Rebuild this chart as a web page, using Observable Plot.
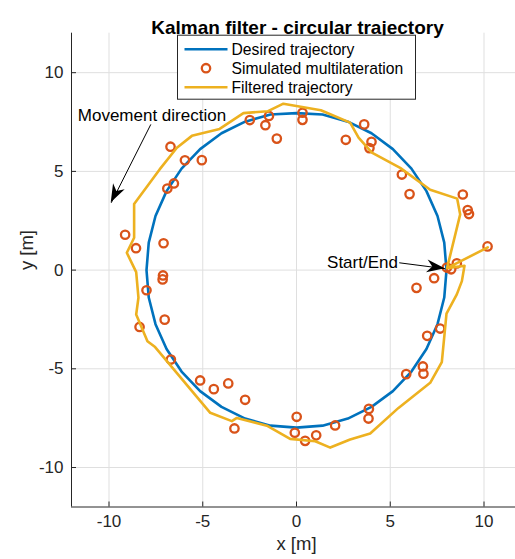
<!DOCTYPE html>
<html><head><meta charset="utf-8">
<script src="https://cdn.jsdelivr.net/npm/d3@7"></script>
<script src="https://cdn.jsdelivr.net/npm/@observablehq/plot@0.6"></script>
<style>
html,body{margin:0;padding:0;background:#fff;}
#chart{width:515px;height:559px;overflow:hidden;}
</style></head><body><div id="chart"></div>
<script>
// ---- data ----
const titleText = "Kalman filter - circular trajectory";
const xLabel = "x [m]";
const yLabel = "y [m]";
const xTicks = [-10, -5, 0, 5, 10];
const yTicks = [-10, -5, 0, 5, 10];
const seriesNames = ["Desired trajectory", "Simulated multilateration", "Filtered trajectory"];

const desiredX = [8, 7.88, 7.52, 6.93, 6.13, 5.14, 4.00, 2.74, 1.39, 0, -1.39, -2.74, -4.00, -5.14, -6.13, -6.93, -7.52, -7.88, -8, -7.88, -7.52, -6.93, -6.13, -5.14, -4.00, -2.74, -1.39, 0, 1.39, 2.74, 4.00, 5.14, 6.13, 6.93, 7.52, 7.88, 8];
const desiredY = [0, 1.39, 2.74, 4.00, 5.14, 6.13, 6.93, 7.52, 7.88, 7.95, 7.88, 7.52, 6.93, 6.13, 5.14, 4.00, 2.74, 1.39, 0, -1.39, -2.74, -4.00, -5.14, -6.13, -6.93, -7.52, -7.88, -7.98, -7.88, -7.52, -6.93, -6.13, -5.14, -4.00, -2.74, -1.39, 0];

const measX = [8.02, 8.25, 8.55, 10.19, 9.2, 9.13, 8.87, 6.03, 5.62, 3.89, 4.0, 3.61, 2.63, 0.32, 0.32, -1.05, -1.47, -1.66, -2.49, -5.05, -5.95, -6.72, -6.54, -6.89, -9.14, -8.56, -7.09, -7.12, -7.14, -8.0, -7.03, -8.37, -6.70, -5.14, -4.41, -3.64, -2.74, -3.31, 0.01, -0.09, 0.46, 1.05, 2.06, 3.86, 3.84, 5.85, 6.74, 6.77, 6.97, 7.66, 6.4, 7.34];
const measY = [0.13, 0.04, 0.34, 1.2, 2.84, 3.04, 3.83, 3.85, 4.84, 6.18, 6.5, 7.38, 6.6, 7.97, 7.61, 6.66, 7.81, 7.34, 7.6, 5.57, 5.56, 6.25, 4.39, 4.13, 1.79, 1.11, 1.36, -0.27, -0.47, -1.02, -2.51, -2.88, -4.53, -5.59, -6.03, -5.74, -6.57, -8.02, -7.43, -8.24, -8.65, -8.37, -7.87, -7.03, -7.52, -5.27, -4.88, -5.25, -3.33, -2.96, -0.9, -0.41];

const filtX = [10.2, 8.03, 8.73, 8.57, 7.13, 5.53, 4.02, 3.31, 2.86, 1.3, -0.7, -1.52, -2.83, -4.1, -5.58, -6.38, -7.3, -8.66, -8.66, -9.05, -8.55, -8.43, -8.55, -7.95, -7.54, -4.60, -3.45, -3.18, -1.58, -0.34, 1.0, 1.80, 2.86, 3.93, 5.44, 7.13, 7.75, 8.0, 8.55, 8.82, 8.96, 8.03];
const filtY = [1.15, 0.10, 2.82, 3.62, 4.07, 5.18, 5.95, 6.71, 7.47, 8.1, 8.43, 8.05, 7.95, 7.15, 6.8, 6.2, 5.1, 3.35, 1.64, 0.88, -0.1, -1.40, -2.25, -3.6, -3.9, -7.23, -7.65, -7.49, -7.88, -8.55, -8.67, -8.99, -8.58, -8.28, -6.98, -5.71, -4.66, -2.2, -1.23, -0.56, 0.22, 0.10];

const annText = ["Movement direction", "Start/End"];
const annTextX = [-7.71, 5.41];
const annTextY = [7.83, 0.39];
const annX1 = [-7.77, 5.48];
const annY1 = [7.38, 0.37];
const annX2 = [-9.88, 7.93];
const annY2 = [3.41, 0.07];

// ---- tables ----
const desired = desiredX.map((x, i) => ({x, y: desiredY[i]}));
const meas = measX.map((x, i) => ({x, y: measY[i]}));
const filt = filtX.map((x, i) => ({x, y: filtY[i]}));
const ann = annText.map((t, i) => ({t, tx: annTextX[i], ty: annTextY[i], x1: annX1[i], y1: annY1[i], x2: annX2[i], y2: annY2[i]}));

const BLUE = "#0072BD", ORANGE = "#D95319", YELLOW = "#EDB120";
const AX = "#262626", GRID = "#dfdfdf";
const FONT = "'Liberation Sans', Arial, Helvetica, sans-serif";

const W = 515, H = 559, ML = 71, MR = 0, MT = 32.7, MB = 52.5;
const frameW = W - ML - MR, frameH = H - MT - MB;

function getScales(scales) {
  const sx = typeof scales.x === "function" ? scales.x : d3.scaleLinear([-12, 12], [71, 521]);
  const sy = typeof scales.y === "function" ? scales.y : d3.scaleLinear([-12, 12], [H - MB, MT]);
  return [sx, sy];
}

const arrowHeads = (index, scales) => {
  const [sx, sy] = getScales(scales);
  const g = d3.create("svg:g");
  for (const a of ann) {
    const x1 = sx(a.x1), y1 = sy(a.y1), x2 = sx(a.x2), y2 = sy(a.y2);
    const ang = Math.atan2(y2 - y1, x2 - x1);
    const L = 18, Wd = 6.5, N = 12.5;
    const ux = Math.cos(ang), uy = Math.sin(ang), px = -uy, py = ux;
    const pts = [[x2, y2], [x2 - L*ux + Wd*px, y2 - L*uy + Wd*py], [x2 - N*ux, y2 - N*uy], [x2 - L*ux - Wd*px, y2 - L*uy - Wd*py]];
    g.append("path").attr("d", "M" + pts.map(p => p.join(",")).join("L") + "Z").attr("fill", "#000").attr("stroke", "none");
  }
  return g.node();
};

const legendMark = (index, scales) => {
  const [sx] = getScales(scales);
  const g = d3.create("svg:g");
  const cx = (sx(-12) + sx(12)) / 2;
  const w = 238, h = 64, top = MT + 2.5, left = cx - w / 2 + 0.5;
  g.append("rect").attr("x", left).attr("y", top).attr("width", w).attr("height", h)
    .attr("fill", "#fff").attr("stroke", AX).attr("stroke-width", 1);
  const rows = [top + 14, top + 33, top + 52];
  const colors = [BLUE, ORANGE, YELLOW];
  seriesNames.forEach((name, i) => {
    if (i === 1) {
      g.append("circle").attr("cx", left + 28.5).attr("cy", rows[i]).attr("r", 4.2)
        .attr("fill", "none").attr("stroke", colors[i]).attr("stroke-width", 2.3);
    } else {
      g.append("path").attr("d", `M${left + 7},${rows[i]}H${left + 50}`)
        .attr("fill", "none").attr("stroke", colors[i]).attr("stroke-width", 2.6);
    }
    g.append("text").attr("x", left + 54).attr("y", rows[i]).attr("dy", "0.35em")
      .attr("text-anchor", "start")
      .attr("font-family", FONT).attr("font-size", 15.7).attr("fill", "#000").text(name);
  });
  return g.node();
};

const chart = Plot.plot({
  width: W, height: H,
  marginLeft: ML, marginRight: MR, marginTop: MT, marginBottom: MB,
  style: {fontFamily: FONT, background: "#fff", overflow: "hidden"},
  x: {domain: [-12, 12], range: [71, 521], axis: null},
  y: {domain: [-12, 12], axis: null},
  marks: [
    Plot.ruleX(xTicks, {x: d => d, stroke: GRID, strokeWidth: 1}),
    Plot.ruleY(yTicks, {y: d => d, stroke: GRID, strokeWidth: 1}),
    Plot.line(desired, {x: "x", y: "y", stroke: BLUE, strokeWidth: 2.6}),
    Plot.dot(meas, {x: "x", y: "y", r: 4.2, stroke: ORANGE, strokeWidth: 2.3, fill: "none"}),
    Plot.line(filt, {x: "x", y: "y", stroke: YELLOW, strokeWidth: 2.6}),
    // axes
    Plot.ruleX([-12], {x: d => d, stroke: AX, strokeWidth: 1}),
    Plot.ruleY([-12], {y: d => d, stroke: AX, strokeWidth: 1}),
    Plot.tickX(xTicks, {x: d => d, stroke: AX, strokeWidth: 1, insetTop: frameH - 5}),
    Plot.tickY(yTicks, {y: d => d, stroke: AX, strokeWidth: 1, insetRight: frameW - 5}),
    Plot.text(xTicks, {x: d => d, text: d => String(d), frameAnchor: "bottom", dy: 19.5, fontSize: 17, fill: AX, textAnchor: "middle"}),
    Plot.text(yTicks, {y: d => d, text: d => String(d), frameAnchor: "left", dx: -8, fontSize: 17, fill: AX, textAnchor: "end"}),
    Plot.text([xLabel], {text: d => d, frameAnchor: "bottom", dx: 3, dy: 42.5, fontSize: 18.5, fill: AX}),
    Plot.text([yLabel], {text: d => d, frameAnchor: "left", dx: -44, rotate: -90, fontSize: 18.5, fill: AX}),
    Plot.text([titleText], {text: d => d, frameAnchor: "top", dx: 4, dy: -13, fontSize: 19, fontWeight: "bold", fill: "#000"}),
    // annotations
    Plot.link(ann, {x1: "x1", y1: "y1", x2: "x2", y2: "y2", stroke: "#000", strokeWidth: 1}),
    arrowHeads,
    Plot.text(ann.slice(0, 1), {x: "tx", y: "ty", text: "t", textAnchor: "middle", fontSize: 17, fill: "#000"}),
    Plot.text(ann.slice(1), {x: "tx", y: "ty", text: "t", textAnchor: "end", fontSize: 17, fill: "#000"}),
    legendMark
  ]
});
document.getElementById("chart").appendChild(chart);
</script>
</body></html>
